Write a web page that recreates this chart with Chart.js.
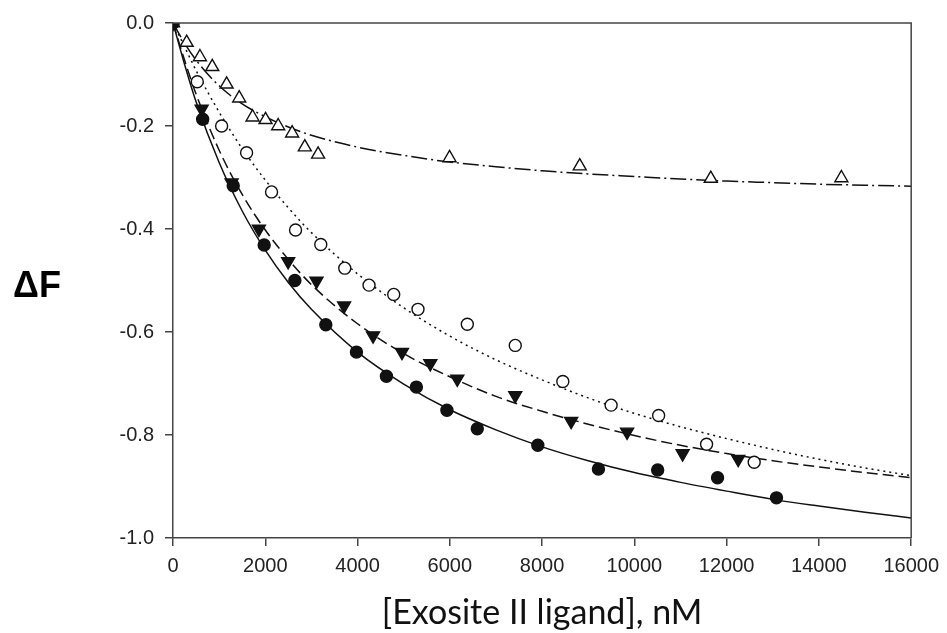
<!DOCTYPE html>
<html>
<head>
<meta charset="utf-8">
<script src="https://cdn.jsdelivr.net/npm/chart.js@4.4.1/dist/chart.umd.min.js"></script>
<style>
  html, body { margin: 0; padding: 0; background: #fff; }
  #wrap { width: 947px; height: 633px; }
</style>
</head>
<body>
<div id="wrap"><canvas id="myChart" width="947" height="633"></canvas></div>
<script>
// measured points
const circleX = [0, 643, 1305, 1976, 2641, 3312, 3976, 4626, 5275, 5937, 6595, 7907, 9221, 10505, 11803, 13080]
const circleY = [0, -0.187, -0.316, -0.431, -0.500, -0.586, -0.639, -0.686, -0.707, -0.752, -0.788, -0.820, -0.866, -0.868, -0.883, -0.922]

const downX = [0, 621, 1270, 1861, 2496, 3110, 3708, 4336, 4963, 5577, 6162, 7418, 8630, 9842, 11046, 12251]
const downY = [0, -0.167, -0.310, -0.400, -0.463, -0.501, -0.549, -0.607, -0.639, -0.661, -0.691, -0.723, -0.773, -0.794, -0.836, -0.847]

const openX = [0, 526, 1054, 1595, 2136, 2656, 3203, 3723, 4249, 4784, 5310, 6379, 7418, 8449, 9496, 10526, 11565, 12597]
const openY = [0, -0.114, -0.200, -0.252, -0.328, -0.402, -0.430, -0.476, -0.509, -0.527, -0.556, -0.585, -0.626, -0.696, -0.742, -0.762, -0.818, -0.853]

const upX = [0, 296, 584, 851, 1162, 1435, 1725, 2006, 2280, 2582, 2857, 3145, 5994, 8816, 11656, 14487]
const upY = [0, -0.038, -0.066, -0.085, -0.119, -0.146, -0.183, -0.188, -0.200, -0.214, -0.241, -0.255, -0.262, -0.278, -0.302, -0.301]

// fitted curves
const fitX = [0, 250, 500, 1000, 1500, 2000, 2500, 3000, 4000, 5000, 6000, 7000, 8000, 9000, 10000, 11000, 12000, 13000, 14000, 15000, 16000]
const solidFit = [0, -0.080, -0.153, -0.271, -0.365, -0.441, -0.504, -0.556, -0.639, -0.701, -0.751, -0.790, -0.823, -0.850, -0.873, -0.892, -0.909, -0.925, -0.938, -0.950, -0.961]
const dashedFit = [0, -0.072, -0.138, -0.247, -0.333, -0.402, -0.459, -0.508, -0.584, -0.642, -0.687, -0.725, -0.754, -0.779, -0.801, -0.820, -0.836, -0.850, -0.862, -0.873, -0.883]
const dottedFit = [0, -0.046, -0.092, -0.173, -0.244, -0.305, -0.359, -0.407, -0.487, -0.553, -0.608, -0.654, -0.693, -0.728, -0.758, -0.784, -0.807, -0.828, -0.847, -0.864, -0.879]
const dashDotFit = [0, -0.039, -0.072, -0.122, -0.157, -0.182, -0.202, -0.218, -0.241, -0.257, -0.270, -0.279, -0.287, -0.293, -0.298, -0.303, -0.307, -0.310, -0.313, -0.315, -0.317]

const xTitle = '[Exosite II ligand], nM'
const yTitle = '\u0394F'

function pairs(xs, ys) {
  return xs.map((x, i) => ({ x: x, y: ys[i] }))
}

const ink = '#111'
const tickFont = { family: '"Liberation Sans", Arial, sans-serif', size: 20 }

function markerSet(xs, ys, style, fill, rot, r) {
  return {
    data: pairs(xs, ys),
    showLine: false,
    pointStyle: style,
    pointRotation: rot,
    pointRadius: r,
    pointBackgroundColor: fill,
    pointBorderColor: ink,
    pointBorderWidth: 1.4
  }
}

function curveSet(ys, dash) {
  return {
    data: pairs(fitX, ys),
    showLine: true,
    pointRadius: 0,
    borderColor: ink,
    borderWidth: 1.5,
    borderDash: dash,
    cubicInterpolationMode: 'monotone'
  }
}

const frame = {
  id: 'frame',
  afterDraw(chart) {
    const c = chart.ctx
    const a = chart.chartArea
    c.save()
    c.strokeStyle = '#444'
    c.lineWidth = 1.5
    c.beginPath()
    c.moveTo(a.left, a.top)
    c.lineTo(a.right, a.top)
    c.lineTo(a.right, a.bottom)
    c.stroke()
    c.fillStyle = '#000'
    c.textAlign = 'center'
    c.textBaseline = 'alphabetic'
    c.font = 'bold 36px "Liberation Sans", Arial, sans-serif'
    c.fillText(yTitle, 37, 297)
    c.fillStyle = '#111'
    c.font = '34px Lato, "Liberation Sans", sans-serif'
    c.fillText(xTitle, (a.left + a.right) / 2, 624)
    c.restore()
  }
}

const ctx = document.getElementById('myChart').getContext('2d')
const myChart = new Chart(ctx, {
  type: 'scatter',
  data: {
    datasets: [
      markerSet(circleX, circleY, 'circle', ink, 0, 6),
      markerSet(downX, downY, 'triangle', ink, 180, 7.5),
      markerSet(openX, openY, 'circle', '#fff', 0, 6),
      markerSet(upX, upY, 'triangle', '#fff', 0, 7.5),
      curveSet(solidFit, []),
      curveSet(dashedFit, [11, 5]),
      curveSet(dottedFit, [2, 4]),
      curveSet(dashDotFit, [16, 4, 2, 4])
    ]
  },
  options: {
    responsive: false,
    animation: false,
    layout: {
      padding: { left: 0, right: 35, top: 19, bottom: 0 }
    },
    plugins: {
      legend: { display: false },
      tooltip: { enabled: false }
    },
    scales: {
      x: {
        type: 'linear',
        min: 0,
        max: 16000,
        afterFit: (s) => { s.height = 95 },
        border: { display: true, color: '#444', width: 1.5 },
        grid: { drawOnChartArea: false, drawTicks: true, tickLength: 8, color: '#444', lineWidth: 1.5 },
        ticks: {
          stepSize: 2000,
          padding: 8,
          color: '#222',
          font: tickFont,
          callback: (v) => String(v)
        }
      },
      y: {
        type: 'linear',
        min: -1,
        max: 0,
        afterFit: (s) => { s.width = 173 },
        border: { display: true, color: '#444', width: 1.5 },
        grid: { drawOnChartArea: false, drawTicks: true, tickLength: 8, color: '#444', lineWidth: 1.5 },
        ticks: {
          stepSize: 0.2,
          padding: 11,
          color: '#222',
          font: tickFont,
          callback: (v) => v.toFixed(1)
        }
      }
    }
  },
  plugins: [frame]
})
</script>
</body>
</html>
